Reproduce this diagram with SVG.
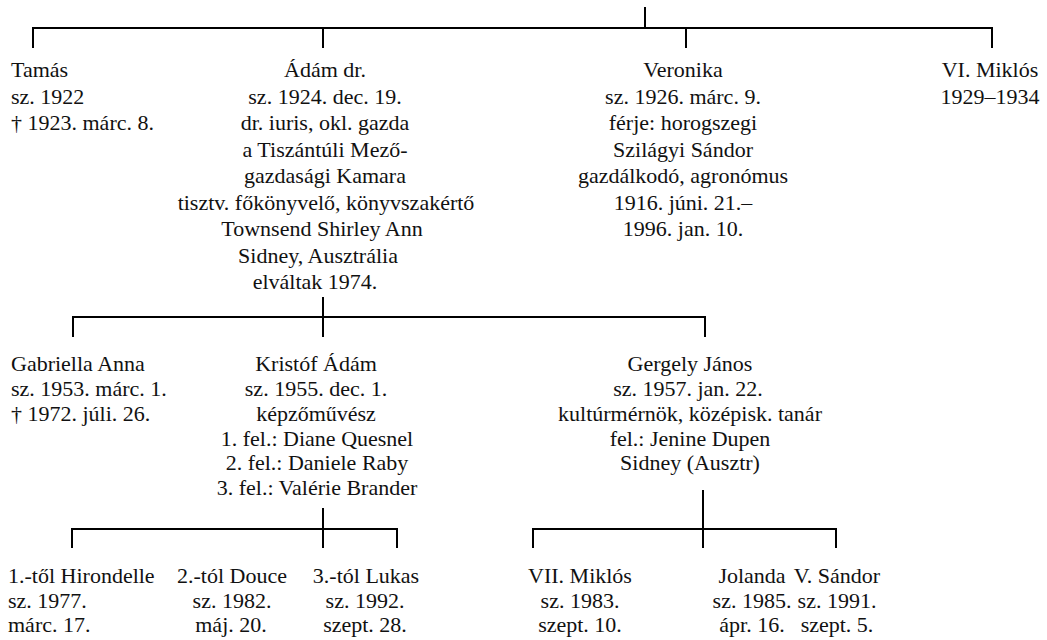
<svg xmlns="http://www.w3.org/2000/svg" width="1047" height="640" viewBox="0 0 1047 640">
<style>
text{font-family:"Liberation Serif","Times New Roman",serif;font-size:22px;fill:#111}
.c{text-anchor:middle}
.ln{stroke:#000;stroke-width:2;fill:none}
</style>
<rect width="1047" height="640" fill="#fff"/>
<g id="connectors" class="ln">
<path d="M645,7V28M33,48V28H992V48M323,28V48M686,28V48"/>
<path d="M323,297V337M73,337V317H705V337"/>
<path d="M323,508V548M72,548V529H397V548"/>
<path d="M703,490V548M533,548V529H836V548"/>
</g>
<g id="tamas"><text x="11" y="77">Tamás</text><text x="11" y="103.5">sz. 1922</text><text x="11" y="130">† 1923. márc. 8.</text></g>
<g id="adam" class="c">
<text x="325" y="77">Ádám dr.</text>
<text x="325" y="103.5">sz. 1924. dec. 19.</text>
<text x="325" y="130">dr. iuris, okl. gazda</text>
<text x="325" y="156.5">a Tiszántúli Mező-</text>
<text x="325" y="183">gazdasági Kamara</text>
<text x="326" y="209.5">tisztv. főkönyvelő, könyvszakértő</text>
<text x="322" y="236">Townsend Shirley Ann</text>
<text x="318" y="262.5">Sidney, Ausztrália</text>
<text x="315" y="289">elváltak 1974.</text>
</g>
<g id="veronika" class="c">
<text x="683" y="77">Veronika</text>
<text x="683" y="103.5">sz. 1926. márc. 9.</text>
<text x="683" y="130">férje: horogszegi</text>
<text x="683" y="156.5">Szilágyi Sándor</text>
<text x="683" y="183">gazdálkodó, agronómus</text>
<text x="683" y="209.5">1916. júni. 21.–</text>
<text x="683" y="236">1996. jan. 10.</text>
</g>
<g id="miklos6" class="c"><text x="990" y="77">VI. Miklós</text><text x="990" y="103.5">1929–1934</text></g>
<g id="gabriella"><text x="11" y="371">Gabriella Anna</text><text x="11" y="396">sz. 1953. márc. 1.</text><text x="11" y="421">† 1972. júli. 26.</text></g>
<g id="kristof" class="c">
<text x="316" y="371">Kristóf Ádám</text>
<text x="316" y="396">sz. 1955. dec. 1.</text>
<text x="316" y="421">képzőművész</text>
<text x="317" y="445.5">1. fel.: Diane Quesnel</text>
<text x="317" y="470">2. fel.: Daniele Raby</text>
<text x="317" y="495">3. fel.: Valérie Brander</text>
</g>
<g id="gergely" class="c">
<text x="690" y="371">Gergely János</text>
<text x="688" y="396">sz. 1957. jan. 22.</text>
<text x="690" y="421">kultúrmérnök, középisk. tanár</text>
<text x="690" y="445.5">fel.: Jenine Dupen</text>
<text x="690" y="470">Sidney (Ausztr)</text>
</g>
<g id="hirondelle"><text x="8" y="583">1.-től Hirondelle</text><text x="8" y="607.5">sz. 1977.</text><text x="8" y="632">márc. 17.</text></g>
<g id="douce" class="c"><text x="232" y="583">2.-tól Douce</text><text x="232" y="607.5">sz. 1982.</text><text x="231" y="632">máj. 20.</text></g>
<g id="lukas" class="c"><text x="366" y="583">3.-tól Lukas</text><text x="365" y="607.5">sz. 1992.</text><text x="365" y="632">szept. 28.</text></g>
<g id="miklos7" class="c"><text x="580" y="583">VII. Miklós</text><text x="580" y="607.5">sz. 1983.</text><text x="580" y="632">szept. 10.</text></g>
<g id="jolanda" class="c"><text x="752" y="583">Jolanda</text><text x="752" y="607.5">sz. 1985.</text><text x="752" y="632">ápr. 16.</text></g>
<g id="sandor5" class="c"><text x="837" y="583">V. Sándor</text><text x="837" y="607.5">sz. 1991.</text><text x="837" y="632">szept. 5.</text></g>
</svg>
